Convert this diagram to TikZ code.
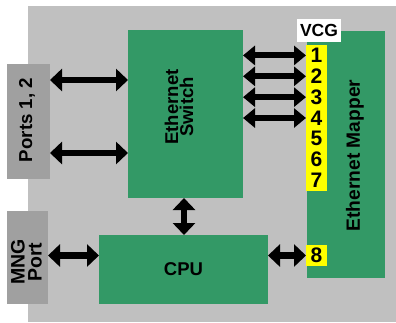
\documentclass[tikz,border=0pt]{standalone}
\usepackage{fontspec}
\setmainfont{Liberation Sans}
\usetikzlibrary{arrows.meta}
\definecolor{bggray}{HTML}{C0C0C0}
\definecolor{portgray}{HTML}{A0A0A0}
\definecolor{boxgreen}{HTML}{339966}
\definecolor{vcgyellow}{HTML}{FFFF00}
\begin{document}
\begin{tikzpicture}[x=1pt,y=-1pt,
  plain/.style={draw=none, inner sep=0pt, outer sep=0pt},
  greenbox/.style={plain, fill=boxgreen},
  portbox/.style={plain, fill=portgray},
  rtext/.style={plain, rotate=90, align=center},
  num/.style={plain, minimum width=21pt, minimum height=20.86pt, font=\bfseries\fontsize{21}{20}\selectfont},
  dbl/.style={line width=6.5pt, {Triangle[width=22pt,length=12pt]}-{Triangle[width=22pt,length=12pt]}},
  vdbl/.style={line width=6pt, {Triangle[width=19pt,length=12pt]}-{Triangle[width=19pt,length=12pt]}}
]
\useasboundingbox (0,0) rectangle (396,322);
\fill[white] (0,0) rectangle (396,322);
\fill[bggray] (28,6) rectangle (396,322);

% boxes
\node[portbox, minimum width=43pt, minimum height=115pt] (ports) at (28.5,121.5) {};
\node[portbox, minimum width=41pt, minimum height=93pt] (mng) at (27.5,257.5) {};
\node[greenbox, minimum width=115pt, minimum height=168pt] (sw) at (185.5,114) {};
\node[greenbox, minimum width=169pt, minimum height=69pt, font=\bfseries\fontsize{18.5}{18}\selectfont] (cpu) at (183.5,269.5) {CPU};
\node[greenbox, minimum width=78pt, minimum height=247pt] (map) at (346,154.5) {};
\node[plain, fill=white, minimum width=44pt, minimum height=23pt, font=\bfseries\fontsize{17.5}{17.5}\selectfont] (vcg) at (319,30.5) {VCG};

% texts
\node[rtext, font=\bfseries\fontsize{18.7}{19}\selectfont] (portst) at (27,120) {Ports 1, 2};
\node[rtext, font=\bfseries\fontsize{19.5}{17}\selectfont] (mngt) at (26.5,262) {MNG\\Port};
\node[rtext, font=\bfseries\fontsize{18.5}{15}\selectfont] (swt) at (179,107) {Ethernet\\Switch};
\node[rtext, font=\bfseries\fontsize{19.2}{19}\selectfont] (mapt) at (355,155.5) {Ethernet Mapper};

% VCG strip
\node[plain, fill=vcgyellow, minimum width=21pt, minimum height=146pt] (strip) at (316.5,118) {};
\foreach \i in {1,...,7}{
  \node[num] (n\i) at (316.5,{45+20.86*(\i-0.5)}) {\i};
}
\node[num, fill=vcgyellow, minimum height=21pt] (n8) at (316.5,255.5) {8};

% connectors
\coordinate (a1) at (0,80);
\coordinate (a2) at (0,153);
\draw[dbl] (ports.east |- a1) -- (sw.west |- a1);
\draw[dbl] (ports.east |- a2) -- (sw.west |- a2);
\foreach \i in {1,...,4}{
  \draw[vdbl] (sw.east |- n\i) -- (n\i.west);
}
\coordinate (v) at (184,0);
\draw[dbl] (sw.south -| v) -- (cpu.north -| v);
\draw[dbl] (mng.east |- n8) -- (cpu.west |- n8);
\draw[dbl] (cpu.east |- n8) -- (n8.west);
\end{tikzpicture}
\end{document}
